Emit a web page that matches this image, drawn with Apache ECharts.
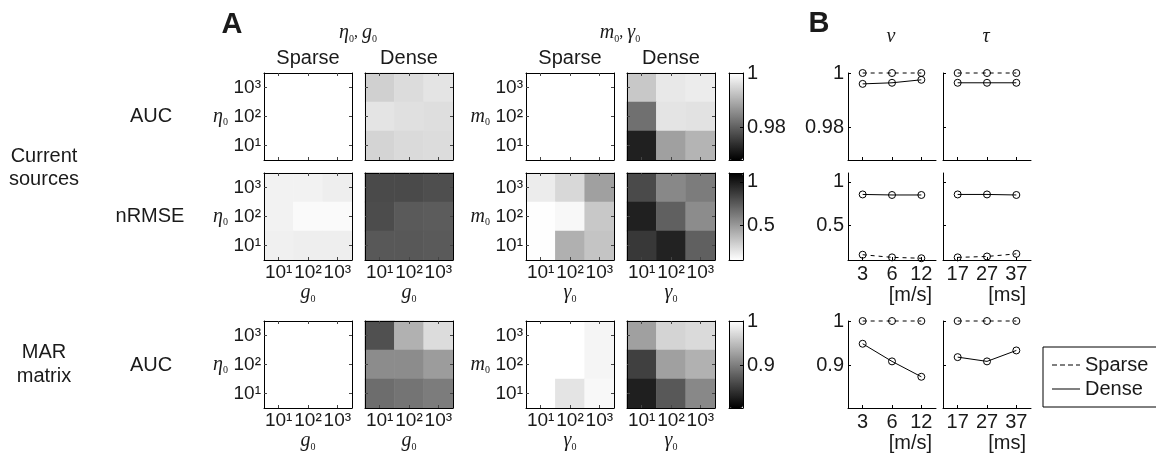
<!DOCTYPE html>
<html><head><meta charset="utf-8">
<script src="https://cdn.jsdelivr.net/npm/echarts@6/dist/echarts.min.js"></script>
<style>html,body{margin:0;padding:0;background:#fff}#c{width:1156px;height:458px}</style>
</head><body><div id="c"></div>
<script>
// ---------- data ----------
const heatTicks = ['10¹', '10²', '10³'];          // x: 10¹..10³ left→right, y: 10¹..10³ bottom→top
const speedTicks = ['3', '6', '12'];
const delayTicks = ['17', '27', '37'];
const colorRanges = [[0.968, 1], [0.11, 1.1], [0.805, 1]];
const rangeTicks = [[0.98, 1], [0.5, 1], [0.9, 1]];

// heatmap values: rows listed top (10³) to bottom (10¹), columns 10¹,10²,10³
const aucEtaSparse = [[1, 1, 1], [1, 1, 1], [1, 1, 1]];
const aucEtaDense = [[0.9941, 0.9956, 0.9966], [0.9966, 0.9961, 0.9959], [0.9946, 0.9954, 0.9956]];
const aucMSparse = [[1, 1, 1], [1, 1, 1], [1, 1, 1]];
const aucMDense = [[0.9931, 0.9971, 0.9976], [0.9821, 0.9966, 0.9964], [0.9720, 0.9881, 0.9906]];
const nrmseEtaSparse = [[0.160, 0.160, 0.176], [0.160, 0.129, 0.129], [0.168, 0.176, 0.176]];
const nrmseEtaDense = [[0.813, 0.813, 0.797], [0.805, 0.751, 0.743], [0.758, 0.758, 0.751]];
const nrmseMSparse = [[0.184, 0.261, 0.479], [0.114, 0.137, 0.324], [0.114, 0.417, 0.339]];
const nrmseMDense = [[0.813, 0.572, 0.619], [0.976, 0.727, 0.557], [0.883, 0.968, 0.727]];
const marEtaSparse = [[1, 1, 1], [1, 1, 1], [1, 1, 1]];
const marEtaDense = [[0.866, 0.940, 0.973], [0.912, 0.912, 0.924], [0.888, 0.894, 0.900]];
const marMSparse = [[1, 1, 0.992], [1, 1, 0.992], [1, 0.979, 0.995]];
const marMDense = [[0.927, 0.967, 0.972], [0.854, 0.927, 0.940], [0.829, 0.872, 0.909]];

// line values (B)
const aucVSparse = [1, 1, 1];
const aucVDense = [0.9960, 0.9964, 0.9975];
const aucTSparse = [1, 1, 1];
const aucTDense = [0.9964, 0.9964, 0.9964];
const nrmseVSparse = [0.17, 0.14, 0.13];
const nrmseVDense = [0.856, 0.85, 0.85];
const nrmseTSparse = [0.14, 0.15, 0.18];
const nrmseTDense = [0.856, 0.856, 0.85];
const marVSparse = [1, 1, 1];
const marVDense = [0.949, 0.9095, 0.875];
const marTSparse = [1, 1, 1];
const marTDense = [0.919, 0.9095, 0.934];

// ---------- layout ----------
const SANS = 'Liberation Sans, Arial, sans-serif';
const SERIF = 'Liberation Serif, Times New Roman, serif';
const INK = '#1a1a1a';
const HX = [264, 365, 526, 627], HW = 88;
const RY = [73, 173, 321], RH = 87;
const LX = [848, 943], LW = 88;
const CBX = 729, CBW = 14;

const heatRows = [
  [aucEtaSparse, aucEtaDense, aucMSparse, aucMDense],
  [nrmseEtaSparse, nrmseEtaDense, nrmseMSparse, nrmseMDense],
  [marEtaSparse, marEtaDense, marMSparse, marMDense]
];
const lineRows = [
  [[aucVSparse, aucVDense], [aucTSparse, aucTDense]],
  [[nrmseVSparse, nrmseVDense], [nrmseTSparse, nrmseTDense]],
  [[marVSparse, marVDense], [marTSparse, marTDense]]
];
const colorMaps = [['#000', '#fff'], ['#fff', '#000'], ['#000', '#fff']];

const mathRich = {
  i: { fontFamily: SERIF, fontStyle: 'italic', fontSize: 20, color: INK, verticalAlign: 'middle', lineHeight: 22 },
  s: { fontFamily: SERIF, fontSize: 10, color: INK, verticalAlign: 'bottom', lineHeight: 10 },
  c: { fontFamily: SERIF, fontSize: 16, color: INK, verticalAlign: 'middle', lineHeight: 22 }
};

const grids = [], xAxes = [], yAxes = [], series = [], visualMaps = [];
const blackLine = { show: true, onZero: false, lineStyle: { color: '#000', width: 1 } };
const noTick = { show: false };
const noLabel = { show: false };

function addGrid(left, top, width, height) {
  grids.push({ left, top, width, height, outerBoundsMode: 'none' });
  return grids.length - 1;
}

for (let r = 0; r < 3; r++) {
  const seriesIdx = [];
  for (let c = 0; c < 4; c++) {
    const gi = addGrid(HX[c], RY[r], HW, RH);
    const tick = { show: true, inside: true, length: 3, alignWithLabel: true, lineStyle: { color: '#444', width: 1 } };
    const xb = xAxes.length;
    xAxes.push({
      type: 'category', gridIndex: gi, data: heatTicks, position: 'bottom', z: 5,
      axisLine: blackLine, axisTick: tick, splitLine: { show: false },
      axisLabel: { show: r > 0, interval: 0, fontFamily: SANS, fontSize: 19, color: INK, margin: 3 },
      name: r > 0 ? (c < 2 ? '{i|g}{s|0}' : '{i|γ}{s|0}') : '',
      nameLocation: 'middle', nameGap: 21, nameTextStyle: { rich: mathRich }
    });
    xAxes.push({
      type: 'category', gridIndex: gi, data: heatTicks, position: 'top', z: 5,
      axisLine: blackLine, axisTick: tick, axisLabel: noLabel, splitLine: { show: false }
    });
    const yl = yAxes.length;
    yAxes.push({
      type: 'category', gridIndex: gi, data: heatTicks, position: 'left', z: 5,
      axisLine: blackLine, axisTick: tick, splitLine: { show: false },
      axisLabel: { show: c % 2 === 0, interval: 0, fontFamily: SANS, fontSize: 19, color: INK, margin: 3 },
      name: c % 2 === 0 ? (c < 2 ? '{i|η}{s|0}' : '{i|m}{s|0}') : '',
      nameLocation: 'middle', nameRotate: 0, nameGap: 36, nameTextStyle: { rich: mathRich, align: 'right' }
    });
    yAxes.push({
      type: 'category', gridIndex: gi, data: heatTicks, position: 'right', z: 5,
      axisLine: blackLine, axisTick: tick, axisLabel: noLabel, splitLine: { show: false }
    });
    const vals = heatRows[r][c];
    const data = [];
    for (let row = 0; row < 3; row++) {
      for (let col = 0; col < 3; col++) data.push([col, 2 - row, vals[row][col]]);
    }
    seriesIdx.push(series.length);
    series.push({
      type: 'heatmap', name: 'heat' + r + c, xAxisIndex: xb, yAxisIndex: yl, data,
      silent: true, emphasis: { disabled: true }, itemStyle: { borderWidth: 0 }
    });
  }
  // colorbar
  visualMaps.push({
    type: 'continuous', min: colorRanges[r][0], max: colorRanges[r][1], seriesIndex: seriesIdx,
    inRange: { color: colorMaps[r] }, calculable: false, hoverLink: false, orient: 'vertical',
    itemWidth: CBW, itemHeight: RH, left: CBX, top: RY[r], padding: 0, showLabel: false, text: null
  });
  const cg = addGrid(CBX, RY[r], CBW, RH);
  xAxes.push({ type: 'value', gridIndex: cg, min: 0, max: 1, position: 'bottom', z: 10, axisLine: blackLine, axisTick: noTick, axisLabel: noLabel, splitLine: { show: false } });
  xAxes.push({ type: 'value', gridIndex: cg, min: 0, max: 1, position: 'top', z: 10, axisLine: blackLine, axisTick: noTick, axisLabel: noLabel, splitLine: { show: false } });
  yAxes.push({ type: 'value', gridIndex: cg, min: colorRanges[r][0], max: colorRanges[r][1], position: 'left', z: 10, axisLine: blackLine, axisTick: noTick, axisLabel: noLabel, splitLine: { show: false } });
  yAxes.push({
    type: 'value', gridIndex: cg, min: colorRanges[r][0], max: colorRanges[r][1], position: 'right', z: 10,
    axisLine: blackLine, splitLine: { show: false },
    axisTick: { show: true, inside: true, length: 3, customValues: rangeTicks[r], lineStyle: { color: '#000' } },
    axisLabel: { show: true, customValues: rangeTicks[r], formatter: v => String(+v.toFixed(3)), fontFamily: SANS, fontSize: 20, color: INK, margin: 4 }
  });

  // line panels
  for (let p = 0; p < 2; p++) {
    const gi = addGrid(LX[p], RY[r], LW, RH);
    const xi = xAxes.length;
    xAxes.push({
      type: 'category', gridIndex: gi, data: p === 0 ? speedTicks : delayTicks, boundaryGap: true,
      axisLine: blackLine, splitLine: { show: false },
      axisTick: { show: true, inside: true, length: 3, alignWithLabel: true, lineStyle: { color: '#000' } },
      axisLabel: { show: r > 0, interval: 0, fontFamily: SANS, fontSize: 20, color: INK, margin: 4 }
    });
    const yi = yAxes.length;
    yAxes.push({
      type: 'value', gridIndex: gi, min: colorRanges[r][0], max: colorRanges[r][1],
      axisLine: blackLine, splitLine: { show: false },
      axisTick: { show: true, inside: true, length: 3, customValues: rangeTicks[r], lineStyle: { color: '#000' } },
      axisLabel: { show: p === 0, customValues: rangeTicks[r], formatter: v => String(+v.toFixed(3)), fontFamily: SANS, fontSize: 20, color: INK, margin: 4 }
    });
    const [sp, de] = lineRows[r][p];
    const common = {
      type: 'line', xAxisIndex: xi, yAxisIndex: yi, symbol: 'circle', symbolSize: 7, clip: false, silent: true,
      itemStyle: { color: 'transparent', borderColor: '#000', borderWidth: 1 }, emphasis: { disabled: true }, z: 3
    };
    series.push(Object.assign({}, common, { name: 'Sparse', data: sp, lineStyle: { color: '#000', width: 1, type: [4, 4] } }));
    series.push(Object.assign({}, common, { name: 'Dense', data: de, lineStyle: { color: '#000', width: 1, type: 'solid' } }));
  }
}

// ---------- texts ----------
function txt(text, x, y, opt) {
  return {
    type: 'text', z: 20, silent: true,
    style: Object.assign({
      text, x, y, fill: INK, fontFamily: SANS, fontSize: 20,
      align: 'center', verticalAlign: 'middle', textAlign: 'center', textVerticalAlign: 'middle'
    }, opt || {})
  };
}
const graphics = [
  txt('A', 232, 25, { fontSize: 29, fontWeight: 'bold' }),
  txt('B', 819, 24, { fontSize: 29, fontWeight: 'bold' }),
  txt('{i|η}{s|0}{c|, }{i|g}{s|0}', 358, 33, { rich: mathRich }),
  txt('{i|m}{s|0}{c|, }{i|γ}{s|0}', 620, 33, { rich: mathRich }),
  txt('{i|ν}', 891, 37, { rich: mathRich }),
  txt('{i|τ}', 986, 37, { rich: mathRich }),
  txt('Sparse', HX[0] + HW / 2, 58), txt('Dense', HX[1] + HW / 2, 58),
  txt('Sparse', HX[2] + HW / 2, 58), txt('Dense', HX[3] + HW / 2, 58),
  txt('AUC', 151, 116), txt('nRMSE', 150, 216), txt('AUC', 151, 365),
  txt('Current\nsources', 44, 168, { lineHeight: 23 }),
  txt('MAR\nmatrix', 44, 364, { lineHeight: 24 }),
  txt('[m/s]', 932, 295, { align: 'right', textAlign: 'right' }),
  txt('[ms]', 1026, 295, { align: 'right', textAlign: 'right' }),
  txt('[m/s]', 932, 443, { align: 'right', textAlign: 'right' }),
  txt('[ms]', 1026, 443, { align: 'right', textAlign: 'right' })
];

const dashIcon = 'path://M0,0h5v1h-5z M8,0h5v1h-5z M16,0h5v1h-5z M24,0h4v1h-4z';
const solidIcon = 'path://M0,0h28v1h-28z';

const chart = echarts.init(document.getElementById('c'), null, { renderer: 'canvas' });
chart.setOption({
  animation: false,
  backgroundColor: '#fff',
  grid: grids, xAxis: xAxes, yAxis: yAxes, series, visualMap: visualMaps,
  legend: {
    left: 1043, top: 347, orient: 'vertical', selectedMode: false,
    itemWidth: 28, itemHeight: 1, itemGap: 2, padding: [7, 40, 7, 9],
    borderColor: '#000', borderWidth: 1, backgroundColor: '#fff',
    textStyle: { fontFamily: SANS, fontSize: 20, color: INK, lineHeight: 22 },
    data: [
      { name: 'Sparse', icon: dashIcon, itemStyle: { color: '#000', borderWidth: 0 } },
      { name: 'Dense', icon: solidIcon, itemStyle: { color: '#000', borderWidth: 0 } }
    ]
  },
  graphic: graphics
});
</script></body></html>
